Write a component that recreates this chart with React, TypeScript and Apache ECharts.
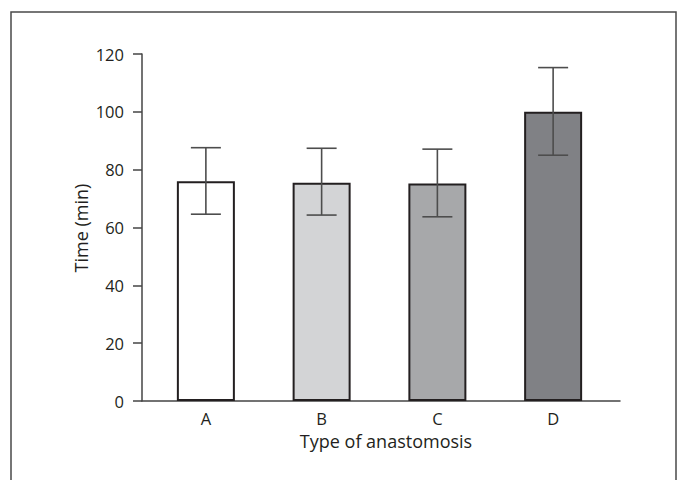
import React, { useEffect, useRef } from "react";
import * as echarts from "echarts";

const categories = ["A", "B", "C", "D"];
const meanValues = [76, 75.5, 75.2, 100];
const lowerValues = [64.6, 64.3, 63.7, 85];
const upperValues = [87.6, 87.4, 87.1, 115.3];
const barColors = ["#ffffff", "#d3d4d6", "#a7a8aa", "#808185"];
const yTicks = { min: 0, max: 120, interval: 20 };
const xAxisTitle = "Type of anastomosis";
const yAxisTitle = "Time (min)";

const FONT = "'Open Sans', 'Noto Sans', sans-serif";
const TEXT_COLOR = "#231f20";

export default function App() {
  const ref = useRef<HTMLDivElement>(null);
  useEffect(() => {
    document.body.style.margin = "0";
    const chart = echarts.init(ref.current!, null, { renderer: "svg" });
    const option: any = {
      animation: false,
      backgroundColor: "#ffffff",
      grid: [
        { left: 142, top: 54, width: 478, height: 347 },
        { left: 148, top: 54, width: 463, height: 347 },
      ],
      xAxis: [
        {
          gridIndex: 0,
          type: "value",
          min: 0,
          max: 1,
          axisLine: { show: true, onZero: false, lineStyle: { color: "#444", width: 1.5 } },
          axisTick: { show: false },
          axisLabel: { show: false },
          splitLine: { show: false },
        },
        {
          gridIndex: 1,
          type: "category",
          data: categories,
          axisLine: { show: false },
          axisTick: { show: false },
          axisLabel: { margin: 9, fontSize: 16.5, fontFamily: FONT, color: TEXT_COLOR },
        },
      ],
      yAxis: [
        {
          gridIndex: 0,
          type: "value",
          min: yTicks.min,
          max: yTicks.max,
          interval: yTicks.interval,
          axisLine: { show: true, lineStyle: { color: "#444", width: 1.5 } },
          axisTick: { show: true, length: 9, lineStyle: { color: "#444", width: 1.5 } },
          axisLabel: { margin: 18, fontSize: 16.5, fontFamily: FONT, color: TEXT_COLOR },
          splitLine: { show: false },
        },
        {
          gridIndex: 1,
          type: "value",
          min: yTicks.min,
          max: yTicks.max,
          interval: yTicks.interval,
          show: false,
        },
      ],
      graphic: [
        {
          type: "rect",
          shape: { x: 11, y: 12, width: 665, height: 480 },
          style: { fill: "none", stroke: "#4a4a4a", lineWidth: 1.5 },
          silent: true,
          z: -1,
        },
        {
          type: "text",
          x: 386,
          y: 441,
          style: {
            text: xAxisTitle,
            fontSize: 18,
            fontFamily: FONT,
            fill: TEXT_COLOR,
            textAlign: "center",
            textVerticalAlign: "middle",
          },
        },
        {
          type: "text",
          x: 81,
          y: 228,
          rotation: Math.PI / 2,
          style: {
            text: yAxisTitle,
            fontSize: 18,
            fontFamily: FONT,
            fill: TEXT_COLOR,
            textAlign: "center",
            textVerticalAlign: "middle",
          },
        },
      ],
      series: [
        {
          type: "bar",
          xAxisIndex: 1,
          yAxisIndex: 1,
          barWidth: 58,
          data: meanValues.map((v, i) => ({
            value: v,
            itemStyle: { color: barColors[i], borderColor: "#231f20", borderWidth: 2 },
          })),
          z: 2,
        },
        {
          type: "custom",
          xAxisIndex: 1,
          yAxisIndex: 1,
          z: 3,
          encode: { x: 0, y: [1, 2] },
          data: categories.map((c, i) => [i, lowerValues[i], upperValues[i]]),
          renderItem: (params: any, api: any) => {
            const x = api.value(0);
            const pLo = api.coord([x, api.value(1)]);
            const pHi = api.coord([x, api.value(2)]);
            const hw = 15;
            const st = { stroke: "#4d4d4d", lineWidth: 1.6 };
            return {
              type: "group",
              children: [
                { type: "line", shape: { x1: pHi[0], y1: pHi[1], x2: pLo[0], y2: pLo[1] }, style: st },
                { type: "line", shape: { x1: pHi[0] - hw, y1: pHi[1], x2: pHi[0] + hw, y2: pHi[1] }, style: st },
                { type: "line", shape: { x1: pLo[0] - hw, y1: pLo[1], x2: pLo[0] + hw, y2: pLo[1] }, style: st },
              ],
            };
          },
        },
      ],
    };
    chart.setOption(option);
    return () => chart.dispose();
  }, []);
  return (
    <div
      ref={ref}
      style={{ position: "absolute", left: 0, top: 0, width: 679, height: 480 }}
    />
  );
}
